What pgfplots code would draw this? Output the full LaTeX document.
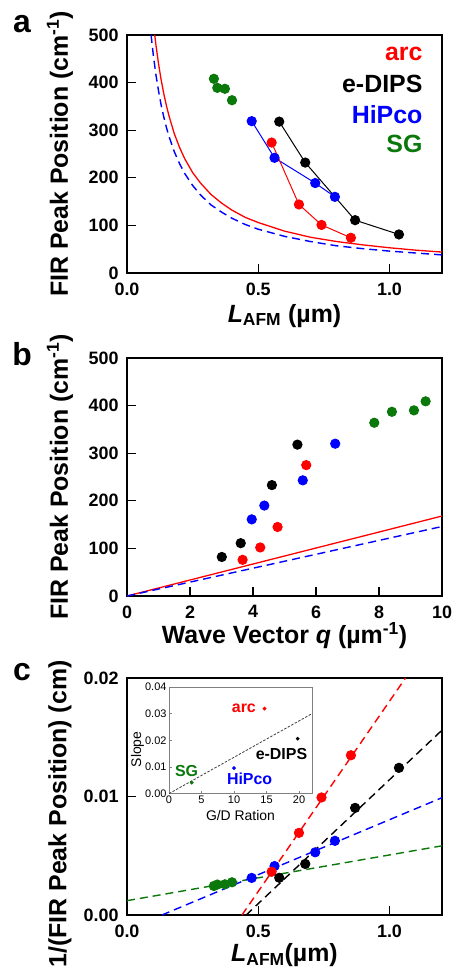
\documentclass[border=0pt]{standalone}
\usepackage{pgfplots}
\pgfplotsset{compat=1.18}
\usepackage{fontspec}
\setmainfont{Liberation Sans}

\definecolor{cred}{RGB}{255,0,0}
\definecolor{cblue}{RGB}{0,0,255}
\definecolor{cgreen}{RGB}{10,120,10}

\newcommand\labfont{\fontsize{25}{28}\selectfont\bfseries}
\pgfplotsset{
  panel/.style={
    scale only axis, width=315bp, height=238bp,
    axis line style={line width=1.3bp},
    tick align=inside, tick pos=left,
    major tick length=9bp,
    every tick/.append style={black, line width=1.3bp},
    tick label style={font=\fontsize{18}{20}\selectfont\bfseries},
    xticklabel style={yshift=-6bp},
    yticklabel style={xshift=-5bp},
    /pgf/number format/assume math mode=true,
    every axis y label/.style={at={(axis description cs:-0.213,0.5)}, rotate=90, anchor=center, font=\labfont},
    every axis x label/.style={at={(axis description cs:0.5,-0.18)}, anchor=center, font=\labfont},
  },
  dat/.style={mark=*, mark size=4.6bp, line width=1bp},
  fitline/.style={line width=1.4bp, dash pattern=on 8bp off 5bp},
}
\newcommand\Lafm{\textit{L}\textsubscript{AFM}}

\begin{document}
\begin{tikzpicture}
\useasboundingbox (0,0) rectangle (453bp,-969bp);

% ---------------- panel a
\begin{axis}[panel, at={(127bp,-35bp)}, anchor=north west,
  xmin=0, xmax=1.2, ymin=0, ymax=500,
  xtick={0,0.5,1}, ytick={0,100,...,500},
  xticklabel style={/pgf/number format/fixed, /pgf/number format/fixed zerofill, /pgf/number format/precision=1},
  xlabel={\Lafm{} (µm)}, ylabel={FIR Peak Position (cm\textsuperscript{-1})}]
\addplot[cred, line width=1.3bp] coordinates {
  (0.1056,500) (0.11,480) (0.12,440) (0.13,406) (0.14,377) (0.15,352) (0.16,330)
  (0.18,293) (0.20,264) (0.22,240) (0.25,211) (0.28,189) (0.32,165) (0.36,147)
  (0.40,132) (0.45,117) (0.50,106) (0.60,88) (0.70,75) (0.80,66) (0.90,59)
  (1.00,53) (1.10,48) (1.20,44)};
\addplot[cblue, fitline] coordinates {
  (0.0918,500) (0.10,459) (0.11,417) (0.12,383) (0.13,353) (0.14,328) (0.15,306)
  (0.16,287) (0.18,255) (0.20,230) (0.22,209) (0.25,184) (0.28,164) (0.32,143)
  (0.36,128) (0.40,115) (0.45,102) (0.50,92) (0.60,77) (0.70,66) (0.80,57)
  (0.90,51) (1.00,46) (1.10,42) (1.20,38)};
\addplot[cgreen, dat, only marks] coordinates {(0.331,408) (0.344,389) (0.373,387) (0.400,363)};
\addplot[cblue, dat] coordinates {(0.475,319) (0.562,242) (0.717,189) (0.792,160)};
\addplot[cred, dat] coordinates {(0.551,274) (0.655,144) (0.741,101) (0.853,74)};
\addplot[black, dat] coordinates {(0.580,318) (0.679,232) (0.869,111) (1.036,81)};
\begin{scope}[font=\labfont]
\node[anchor=east, text=cred] at (axis description cs:0.949,0.92) {arc};
\node[anchor=east, text=black] at (axis description cs:0.949,0.794) {e-DIPS};
\node[anchor=east, text=cblue] at (axis description cs:0.949,0.664) {HiPco};
\node[anchor=east, text=cgreen] at (axis description cs:0.949,0.542) {SG};
\end{scope}
\end{axis}

% ---------------- panel b
\begin{axis}[panel, at={(127bp,-358bp)}, anchor=north west,
  xmin=0, xmax=10, ymin=0, ymax=500,
  xtick={0,2,...,10}, ytick={0,100,...,500},
  every axis x label/.style={at={(axis description cs:0.5,-0.168)}, anchor=center, font=\labfont},
  xlabel={Wave Vector \textit{q} (µm\textsuperscript{-1})}, ylabel={FIR Peak Position (cm\textsuperscript{-1})}]
\addplot[cred, line width=1.3bp] coordinates {(0,0) (10,168)};
\addplot[cblue, fitline] coordinates {(0,0) (10,146)};
\addplot[cgreen, dat, only marks] coordinates {(7.85,364) (8.41,387) (9.11,390) (9.48,409)};
\addplot[cblue, dat, only marks] coordinates {(3.96,161) (4.36,190) (5.58,243) (6.61,320)};
\addplot[cred, dat, only marks] coordinates {(3.67,76) (4.23,102) (4.78,145) (5.69,275)};
\addplot[black, dat, only marks] coordinates {(3.01,82) (3.61,111) (4.60,233) (5.41,318)};
\end{axis}

% ---------------- panel c
\begin{axis}[panel, at={(127bp,-678bp)}, anchor=north west, height=237bp,
  xmin=0, xmax=1.2, ymin=0, ymax=0.02, scaled y ticks=false,
  xtick={0,0.5,1}, ytick={0,0.01,0.02},
  xticklabel style={/pgf/number format/fixed, /pgf/number format/fixed zerofill, /pgf/number format/precision=1},
  yticklabel style={/pgf/number format/fixed, /pgf/number format/fixed zerofill, /pgf/number format/precision=2},
  every axis x label/.style={at={(axis description cs:0.5,-0.169)}, anchor=center, font=\labfont},
  every axis y label/.style={at={(axis description cs:-0.213,0.426)}, rotate=90, anchor=center, font=\labfont},
  xlabel={\Lafm{}(µm)}, ylabel={1/(FIR Peak Position) (cm)}]
\addplot[cgreen, fitline] coordinates {(0,0.00121) (1.2,0.00584)};
\addplot[cblue, fitline] coordinates {(0.133,0) (1.2,0.0099)};
\addplot[black, fitline] coordinates {(0.454,0) (1.2,0.0156)};
\addplot[cred, fitline] coordinates {(0.438,0) (1.061,0.02)};
\addplot[cgreen, dat, only marks] coordinates {(0.331,0.00245) (0.344,0.00257) (0.373,0.00259) (0.400,0.00276)};
\addplot[cblue, dat, only marks] coordinates {(0.475,0.00313) (0.562,0.00413) (0.717,0.00529) (0.792,0.00626)};
\addplot[cred, dat, only marks] coordinates {(0.551,0.00365) (0.655,0.00693) (0.741,0.00992) (0.853,0.01348)};
\addplot[black, dat, only marks] coordinates {(0.580,0.00314) (0.679,0.00431) (0.869,0.00904) (1.036,0.01242)};
\end{axis}

% ---------------- inset
\begin{axis}[at={(169bp,-687bp)}, anchor=north west, scale only axis,
  width=143bp, height=106.6bp,
  xmin=0, xmax=22, ymin=0, ymax=0.04, scaled y ticks=false,
  axis background/.style={fill=white},
  axis line style={gray, line width=0.8bp},
  tick align=inside, tick pos=left, major tick length=3bp,
  every tick/.append style={gray, line width=0.6bp},
  xtick={0,5,...,20}, ytick={0,0.01,...,0.04},
  /pgf/number format/assume math mode=true,
  tick label style={font=\fontsize{11}{12}\selectfont},
  xticklabel style={yshift=1bp},
  yticklabel style={xshift=1bp, /pgf/number format/fixed, /pgf/number format/fixed zerofill, /pgf/number format/precision=2},
  every axis x label/.style={at={(axis description cs:0.5,-0.205)}, anchor=center, font=\fontsize{14}{15}\selectfont},
  every axis y label/.style={at={(axis description cs:-0.22,0.415)}, rotate=90, anchor=center, font=\fontsize{14}{15}\selectfont},
  xlabel={G/D Ration}, ylabel={Slope}]
\addplot[black!75, line width=0.8bp, dash pattern=on 2.5bp off 1.5bp] coordinates {(0,0) (22,0.030)};
\addplot[cred, only marks, mark=*, mark size=1.7bp] coordinates {(14.7,0.0319)};
\addplot[black, only marks, mark=*, mark size=1.7bp] coordinates {(19.8,0.0206)};
\addplot[cblue, only marks, mark=*, mark size=1.7bp] coordinates {(10.0,0.0096)};
\addplot[cgreen, only marks, mark=*, mark size=1.7bp] coordinates {(3.5,0.0041)};
\begin{scope}[font=\fontsize{16}{17}\selectfont\bfseries]
\node[anchor=east, text=cred] at (axis cs:13.9,0.0319) {arc};
\node[text=black] at (axis cs:17.3,0.0147) {e-DIPS};
\node[text=cblue] at (axis cs:12.4,0.0056) {HiPco};
\node[text=cgreen] at (axis cs:2.7,0.0085) {SG};
\end{scope}
\end{axis}

% panel letters
\begin{scope}[font=\fontsize{32}{32}\selectfont\bfseries]
\node[anchor=base] at (22bp,-32bp) {a};
\node[anchor=base] at (22bp,-365bp) {b};
\node[anchor=base] at (22bp,-680bp) {c};
\end{scope}
\end{tikzpicture}
\end{document}
